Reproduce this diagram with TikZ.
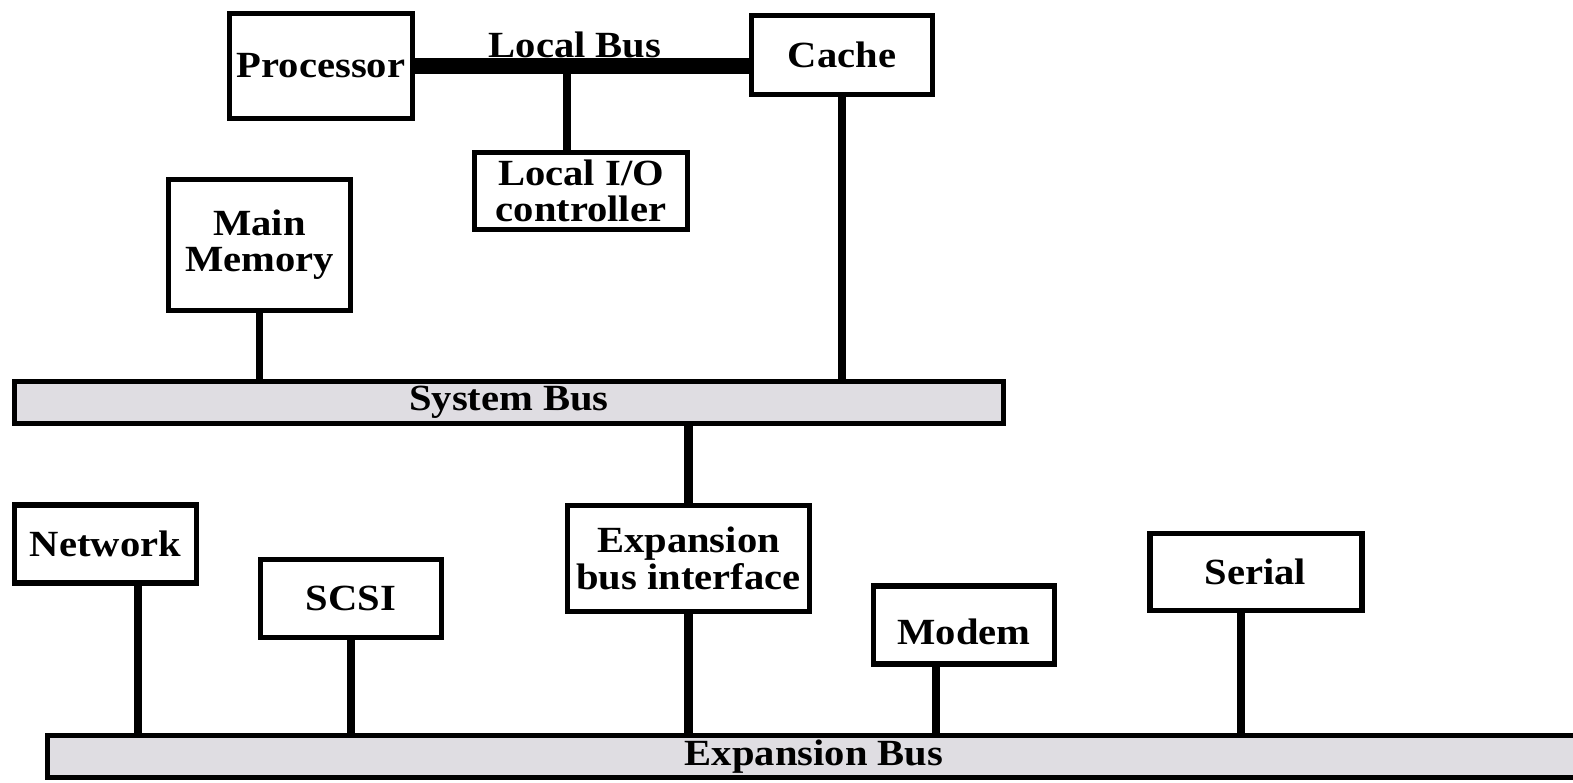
\documentclass[tikz,border=0pt]{standalone}
\usepackage{fontspec}
\setmainfont[FakeStretch=1.1]{Liberation Serif}
\usetikzlibrary{positioning}
\definecolor{busgray}{RGB}{223,221,226}

\begin{document}
\begin{tikzpicture}[
        unit/.style={rectangle, draw, line width=1.7pt, align=center, inner sep=0pt},
        bus/.style={rectangle, draw, line width=1.5pt, fill=busgray, inner sep=0pt, minimum height=0.42cm},
        drop/.style={line width=2.4pt},
        font=\fontsize{10.5}{10.3}\selectfont\bfseries
    ]
        \useasboundingbox (0,0) rectangle (15.73,-7.83);

        % Local side
        \node[unit, minimum width=1.83cm, minimum height=1.05cm] (proc) at (3.21, -0.66) {Processor};
        \node[unit, minimum width=1.81cm, minimum height=0.79cm] (cache) at (8.42, -0.55) {Cache};
        \node[unit, minimum width=2.13cm, minimum height=0.77cm] (lio) at (5.81, -1.91) {Local I/O\\controller};
        \node[unit, minimum width=1.82cm, minimum height=1.31cm] (mem) at (2.595, -2.45) {Main\\Memory};

        % Buses
        \node[bus, minimum width=9.89cm] (sysbus) at (5.09, -4.025) {System Bus};
        \node[bus, minimum width=15.33cm] (expbus) at (8.14, -7.565) {Expansion Bus};

        % Expansion side
        \node[unit, minimum width=2.42cm, minimum height=1.06cm] (iface) at (6.885, -5.585) {Expansion\\bus interface};
        \node[unit, minimum width=1.82cm, minimum height=0.78cm] (net) at (1.055, -5.44) {Network};
        \node[unit, minimum width=1.81cm, minimum height=0.78cm] (scsi) at (3.51, -5.985) {SCSI};
        \node[unit, minimum width=1.81cm, minimum height=0.78cm, text height=11pt] (modem) at (9.64, -6.25) {Modem};
        \node[unit, minimum width=2.12cm, minimum height=0.77cm] (serial) at (12.555, -5.72) {Serial};

        % Local bus
        \draw[line width=4.6pt] (proc.east) -- (proc.east -| cache.west);
        \node (lbus) at (5.75, -0.45) {Local Bus};
        \coordinate (tap) at (5.67, -0.68);
        \draw[line width=2pt] (tap) -- (tap |- lio.north);

        % Connections
        \draw[line width=2pt] (mem.south) -- (mem.south |- sysbus.north);
        \draw[line width=2.5pt] (cache.south) -- (cache.south |- sysbus.north);
        \draw[drop] (iface.north) -- (iface.north |- sysbus.south);

        \draw[drop] ([xshift=3.25mm]net.south) -- ([xshift=3.25mm]net.south |- expbus.north);
        \draw[drop] (scsi.south) -- (scsi.south |- expbus.north);
        \draw[drop] (iface.south) -- (iface.south |- expbus.north);
        \draw[drop] ([xshift=-2.8mm]modem.south) -- ([xshift=-2.8mm]modem.south |- expbus.north);
        \draw[drop] ([xshift=-1.45mm]serial.south) -- ([xshift=-1.45mm]serial.south |- expbus.north);
    \end{tikzpicture}
\end{document}
